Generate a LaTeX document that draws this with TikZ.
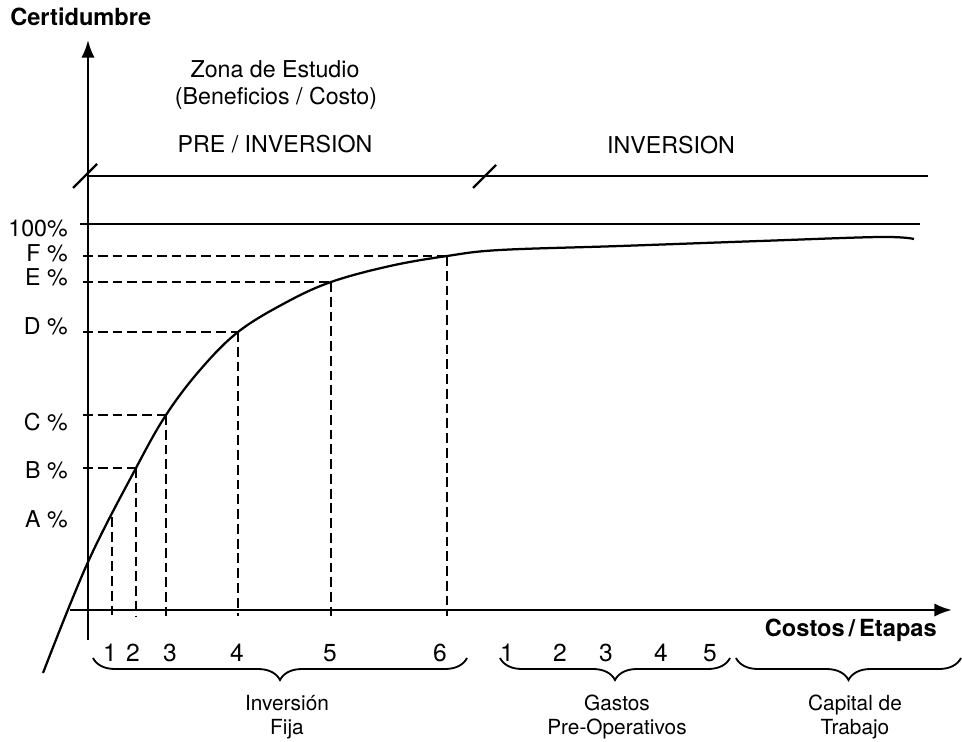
\documentclass[tikz,border=0pt]{standalone}
\usepackage{fontspec}
\setmainfont{TeX Gyre Heros}
\usetikzlibrary{arrows.meta,decorations.pathreplacing}

\begin{document}
\begin{tikzpicture}[x=0.025cm,y=-0.025cm,
  txt/.style={font=\fontsize{16.5}{19}\selectfont, inner sep=0pt},
  num/.style={font=\fontsize{17.5}{20}\selectfont, inner sep=0pt},
  sub/.style={font=\fontsize{14.8}{17.5}\selectfont, inner sep=0pt, align=center},
  bold/.style={font=\fontsize{16.8}{19}\selectfont\bfseries, inner sep=0pt},
  axis/.style={line width=1.9pt},
  bar/.style={line width=1.6pt},
  guide/.style={dash pattern=on 7pt off 3.5pt, line width=0.9pt},
  curly/.style={decorate, decoration={brace, mirror, amplitude=0.55cm}, line width=1.3pt}]
\useasboundingbox (0,0) rectangle (962,742);

%%% axes
\draw[axis] [-{Latex[length=12.5pt,width=9.5pt]}] (88,640) -- (88,40) ;
\draw[axis] [-{Latex[length=12.5pt,width=9.5pt]}] (70,610) -- (952,610) ;
\node[bold, anchor=west] (cert) at (10,17) {Certidumbre};
\node[bold, anchor=east] (costos) at (937,630) {Costos\,/\,Etapas};

%%% stages
\node[txt] (zona) at (275,69) {Zona de Estudio};
\node[txt] (benef) at (276,98) {(Beneficios / Costo)};
\node[txt] (pre) at (275,144) {PRE / INVERSION};
\node[txt] (inv) at (671,145) {INVERSION};

\draw[bar] (88,176) -- (928,176) ;
\draw[bar] (73,188) -- (97,164) ;
\draw[bar] (473,188) -- (496,165) ;
\draw[bar] (80,224) -- (920,224) ;

%%% certainty levels
\foreach \y/\t/\n in {229/100\%/T, 253/F \%/F, 277/E \%/E, 326/D \%/D, 422/C \%/C, 470/B \%/B, 519/A \%/A}
\node[txt, anchor=east] (pct\n) at (68,\y) {\t};

\foreach \x/\y in {136/468, 166/415, 238/332, 331/282, 447/256}
\draw[guide] (83,\y) -- (\x,\y) ;

\foreach \x/\y in {112/517, 136/468, 166/415, 238/332, 331/282, 447/256}
\draw[guide] (\x,\y) -- (\x,616) ;

%%% curve
\draw[bar] plot[smooth, tension=0.6] coordinates {(43,673) (88,562) (136,468) (166,415) (200,370) (238,332) (285,303) (331,282) (390,266) (447,256) (500,250) (620,246) (760,241) (880,237) (914,239)} ;

%%% steps
\foreach \x/\n in {110/1, 133/2, 170/3, 237/4, 330/5, 440/6}
\node[num] (fix\n) at (\x,653) {\n};
\foreach \x/\n in {507/1, 560/2, 606/3, 661/4, 710/5}
\node[num] (gas\n) at (\x,653) {\n};

\draw[curly] (93,658) -- (467,658) ;
\draw[curly] (500,658) -- (730,658) ;
\draw[curly] (736,658) -- (961,658) ;

\node[sub] (fija) at (287,717) {Inversión\\Fija};
\node[sub] (gastos) at (617,717) {Gastos\\Pre-Operativos};
\node[sub] (capital) at (855,717) {Capital de\\Trabajo};

\end{tikzpicture}
\end{document}
